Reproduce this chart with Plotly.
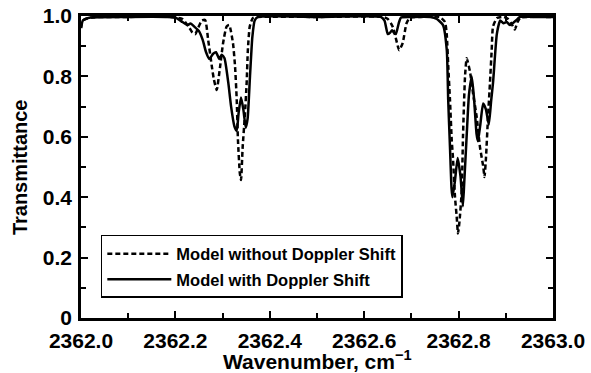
import plotly.graph_objects as go

# Wavenumber (cm^-1) and transmittance for the two model curves
wn_no_doppler = [
    2362.000, 2362.004, 2362.020, 2362.100, 2362.190, 2362.215, 2362.228, 2362.236,
    2362.242, 2362.248, 2362.256, 2362.263, 2362.2695, 2362.2775, 2362.2815, 2362.2875,
    2362.2945, 2362.3010, 2362.3085, 2362.3140, 2362.3220, 2362.3265, 2362.3300, 2362.3325,
    2362.3365, 2362.3390, 2362.3425, 2362.3470, 2362.3510, 2362.3535, 2362.3575, 2362.3640,
    2362.3750, 2362.500, 2362.640, 2362.650, 2362.657, 2362.6615, 2362.668, 2362.674,
    2362.6815, 2362.6895, 2362.697, 2362.720, 2362.760, 2362.7712, 2362.7748, 2362.7782,
    2362.7818, 2362.7854, 2362.7881, 2362.7924, 2362.7960, 2362.7987, 2362.8019, 2362.8066,
    2362.8093, 2362.8136, 2362.8172, 2362.8242, 2362.8305, 2362.8383, 2362.8453, 2362.8523,
    2362.8549, 2362.8581, 2362.8623, 2362.8665, 2362.8701, 2362.8729, 2362.8814, 2362.8950,
    2362.9050, 2362.9120, 2362.9190, 2362.9250, 2362.9310, 2362.9500, 2363.000,
]
tr_no_doppler = [
    0.960, 0.985, 0.995, 0.997, 0.997, 0.990, 0.965, 0.945,
    0.940, 0.960, 0.985, 0.987, 0.920, 0.830, 0.790, 0.755,
    0.830, 0.910, 0.965, 0.970, 0.910, 0.830, 0.720, 0.590,
    0.480, 0.457, 0.566, 0.666, 0.780, 0.887, 0.965, 0.993,
    0.997, 0.997, 0.997, 0.990, 0.975, 0.960, 0.920, 0.887,
    0.910, 0.975, 0.995, 0.997, 0.997, 0.980, 0.940, 0.830,
    0.720, 0.590, 0.530, 0.400, 0.335, 0.280, 0.320, 0.420,
    0.600, 0.800, 0.860, 0.815, 0.745, 0.666, 0.566, 0.500,
    0.467, 0.533, 0.666, 0.780, 0.887, 0.965, 0.993, 0.997,
    0.990, 0.975, 0.955, 0.980, 0.995, 0.997, 0.997,
]

wn_doppler = [
    2362.000, 2362.004, 2362.020, 2362.100, 2362.180, 2362.200, 2362.215, 2362.225,
    2362.232, 2362.240, 2362.250, 2362.258, 2362.265, 2362.272, 2362.280, 2362.286,
    2362.293, 2362.298, 2362.304, 2362.312, 2362.318, 2362.325, 2362.330, 2362.334,
    2362.339, 2362.344, 2362.349, 2362.353, 2362.358, 2362.363, 2362.368, 2362.375,
    2362.500, 2362.635, 2362.643, 2362.650, 2362.655, 2362.659, 2362.663, 2362.667,
    2362.673, 2362.678, 2362.700, 2362.740, 2362.754, 2362.767, 2362.775, 2362.778,
    2362.782, 2362.785, 2362.787, 2362.792, 2362.798, 2362.804, 2362.809, 2362.812,
    2362.817, 2362.822, 2362.828, 2362.833, 2362.838, 2362.841, 2362.846, 2362.852,
    2362.858, 2362.864, 2362.869, 2362.873, 2362.881, 2362.888, 2362.895, 2362.902,
    2362.909, 2362.916, 2362.923, 2362.930, 2362.960, 2363.000,
]
tr_doppler = [
    0.960, 0.985, 0.995, 0.997, 0.997, 0.995, 0.980, 0.970,
    0.975, 0.965, 0.950, 0.920, 0.880, 0.858, 0.875, 0.880,
    0.858, 0.872, 0.860, 0.780, 0.700, 0.635, 0.620, 0.680,
    0.730, 0.690, 0.630, 0.660, 0.800, 0.930, 0.985, 0.997,
    0.997, 0.997, 0.985, 0.940, 0.945, 0.953, 0.945, 0.940,
    0.975, 0.995, 0.997, 0.997, 0.990, 0.970, 0.887, 0.720,
    0.556, 0.430, 0.400, 0.450, 0.530, 0.470, 0.370, 0.450,
    0.600, 0.740, 0.800, 0.720, 0.610, 0.585, 0.640, 0.710,
    0.690, 0.640, 0.720, 0.780, 0.940, 0.985, 0.976, 0.980,
    0.970, 0.978, 0.987, 0.997, 0.997, 0.997,
]

x_tickvals = [2362.0, 2362.2, 2362.4, 2362.6, 2362.8, 2363.0]
x_ticktext = ["2362.0", "2362.2", "2362.4", "2362.6", "2362.8", "2363.0"]
y_tickvals = [0, 0.2, 0.4, 0.6, 0.8, 1.0]
y_ticktext = ["0", "0.2", "0.4", "0.6", "0.8", "1.0"]
x_title = "<b>Wavenumber, cm<sup>−1</sup></b>"
y_title = "<b>Transmittance</b>"

FONT = "Liberation Sans, Arial, sans-serif"

fig = go.Figure()
fig.add_trace(go.Scatter(
    x=wn_no_doppler, y=tr_no_doppler, mode="lines",
    name="<b>Model without Doppler Shift</b>", legendgroup="a",
    line=dict(color="black", width=2.5, dash="5px,3px", shape="spline", smoothing=0.5),
))
fig.add_trace(go.Scatter(
    x=wn_doppler, y=tr_doppler, mode="lines",
    name="<b>Model with Doppler Shift</b>", legendgroup="b",
    line=dict(color="black", width=2.5, shape="spline", smoothing=0.5),
))

axis_common = dict(
    showgrid=False, zeroline=False, showline=True, linecolor="black", linewidth=2.5,
    mirror="ticks", ticks="inside", ticklen=7, tickwidth=1.5, tickcolor="black",
    tickfont=dict(family=FONT, size=21, color="black", weight="bold"),
    automargin=False,
)

fig.update_layout(
    width=591, height=373,
    margin=dict(l=81, r=38, t=16, b=55),
    paper_bgcolor="white", plot_bgcolor="white",
    font=dict(family=FONT, color="black"),
    showlegend=True,
    legend=dict(
        x=0.042, y=0.275, xanchor="left", yanchor="top",
        bordercolor="black", borderwidth=1.5, bgcolor="white",
        font=dict(family=FONT, size=16.5, color="black"),
        tracegroupgap=1, itemwidth=64,
    ),
    annotations=[
        dict(text=x_title, xref="paper", yref="paper", x=0.5, y=-0.138,
             xanchor="center", yanchor="middle", showarrow=False,
             font=dict(family=FONT, size=21, color="black")),
        dict(text=y_title, xref="paper", yref="paper", x=-0.129, y=0.5,
             xanchor="center", yanchor="middle", showarrow=False, textangle=-90,
             font=dict(family=FONT, size=20, color="black")),
    ],
)
fig.update_xaxes(
    range=[2362.0, 2363.0], tickvals=x_tickvals, ticktext=x_ticktext,
    ticklabelstandoff=2,
    minor=dict(dtick=0.1, tick0=2362.0, ticks="inside", ticklen=5, tickwidth=1.5, tickcolor="black"),
    **axis_common,
)
fig.update_yaxes(
    range=[0, 1.0], tickvals=y_tickvals, ticktext=y_ticktext,
    ticklabelstandoff=2,
    minor=dict(dtick=0.1, tick0=0, ticks="inside", ticklen=5, tickwidth=1.5, tickcolor="black"),
    **axis_common,
)

fig.write_html("out.html")
